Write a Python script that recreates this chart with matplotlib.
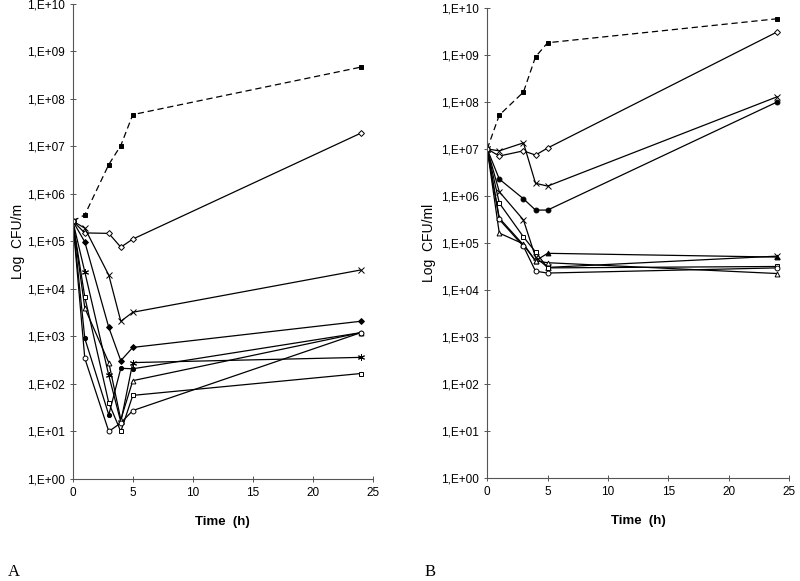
import numpy as np
import matplotlib
matplotlib.use("Agg")
import matplotlib.pyplot as plt
from matplotlib.ticker import FixedLocator, NullLocator

plt.rcParams['font.family'] = ['Liberation Sans', 'DejaVu Sans']

# sampling times (h)
t = [0, 1, 3, 4, 5, 24]

# panel A, log10 CFU values
a_ctrl = [5.43, 5.56, 6.62, 7.02, 7.67, 8.67]
a_odia = [5.43, 5.18, 5.17, 4.88, 5.05, 7.28]
a_x = [5.43, 5.28, 4.29, 3.32, 3.51, 4.40]
a_fdia = [5.43, 4.99, 3.19, 2.49, 2.77, 3.32]
a_star = [5.43, 4.36, 2.18, 1.20, 2.45, 2.56]
a_tri = [5.43, 3.60, 2.45, 1.25, 2.07, 3.08]
a_fcirc = [5.43, 2.96, 1.35, 2.33, 2.32, 3.08]
a_sq = [5.43, 3.83, 1.60, 1.00, 1.76, 2.22]
a_circ = [5.43, 2.54, 1.00, 1.18, 1.44, 3.08]

# panel B
b_ctrl = [7.0, 7.72, 8.21, 8.96, 9.26, 9.77]
b_odia = [7.0, 6.85, 6.96, 6.87, 7.02, 9.49]
b_x = [7.0, 6.96, 7.13, 6.27, 6.21, 8.11]
b_fcirc = [7.0, 6.36, 5.94, 5.70, 5.70, 8.00]
b_x2 = [7.0, 6.09, 5.49, 4.70, 4.48, 4.72]
b_sq = [7.0, 5.85, 5.13, 4.81, 4.47, 4.50]
b_ftri = [7.0, 5.53, 4.96, 4.62, 4.78, 4.70]
b_tri = [7.0, 5.21, 4.98, 4.62, 4.58, 4.35]
b_circ = [7.0, 5.50, 4.93, 4.40, 4.36, 4.47]

ytick_labels = ["1,E+00", "1,E+01", "1,E+02", "1,E+03", "1,E+04", "1,E+05",
                "1,E+06", "1,E+07", "1,E+08", "1,E+09", "1,E+10"]


def line(ax, y, m, fill='white', ls='-', ms=3.5):
    l, = ax.plot(t, 10 ** np.array(y), ls=ls, color='black', lw=0.9, marker=m,
                 markersize=ms, markerfacecolor=fill, markeredgecolor='black',
                 markeredgewidth=0.7)
    if ls == '--':
        l.set_dashes((5, 3))


def style(ax, ylabel, lx):
    ax.set_yscale('log')
    ax.set_ylim(1, 1e10)
    ax.set_xlim(0, 25)
    ax.yaxis.set_major_locator(FixedLocator([10.0 ** k for k in range(11)]))
    ax.yaxis.set_minor_locator(NullLocator())
    ax.set_yticklabels(ytick_labels)
    ax.set_xticks([0, 5, 10, 15, 20, 25])
    ax.tick_params(direction='inout', length=5, width=0.7, labelsize=8.5, color='#555555')
    for s in ['top', 'right']:
        ax.spines[s].set_visible(False)
    for s in ['left', 'bottom']:
        ax.spines[s].set_color('#555555')
        ax.spines[s].set_linewidth(0.8)
    ax.set_xlabel("Time  (h)", fontsize=9.5, fontweight='bold', labelpad=12)
    ax.set_ylabel(ylabel, fontsize=10)
    ax.yaxis.set_label_coords(lx, 0.5)


fig = plt.figure(figsize=(8, 5.81), dpi=100)
ax1 = fig.add_axes([0.091, 0.1756, 0.375, 0.8176])
ax2 = fig.add_axes([0.609, 0.1773, 0.3775, 0.809])

line(ax1, a_ctrl, 's', fill='black', ls='--')
line(ax1, a_odia, 'D', ms=3)
line(ax1, a_x, 'x', ms=5)
line(ax1, a_fdia, 'D', fill='black', ms=3)
line(ax1, a_star, (6, 2, 0), ms=5)
line(ax1, a_tri, '^')
line(ax1, a_fcirc, 'o', fill='black', ms=3)
line(ax1, a_sq, 's')
line(ax1, a_circ, 'o')
style(ax1, "Log  CFU/m", -0.16)

line(ax2, b_ctrl, 's', fill='black', ls='--')
line(ax2, b_odia, 'D', ms=3)
line(ax2, b_x, 'x', ms=5)
line(ax2, b_fcirc, 'o', fill='black')
line(ax2, b_x2, 'x', ms=5)
line(ax2, b_sq, 's')
line(ax2, b_ftri, '^', fill='black')
line(ax2, b_tri, '^')
line(ax2, b_circ, 'o')
style(ax2, "Log  CFU/ml", -0.17)

fig.text(0.01, 0.008, "A", fontsize=12, family='Liberation Serif')
fig.text(0.531, 0.008, "B", fontsize=12, family='Liberation Serif')

fig.savefig("out.png", dpi=100)
